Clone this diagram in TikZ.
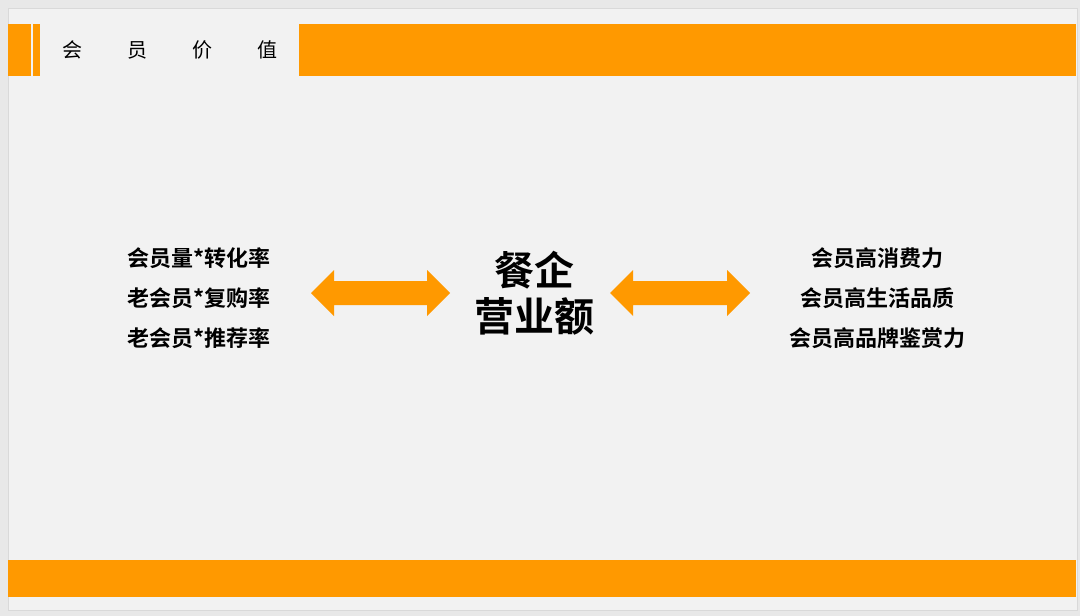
\documentclass[tikz,border=0pt]{standalone}
\usepackage{fontspec}
\newfontfamily\cjk{Noto Sans CJK SC}
\newfontfamily\cjkb{Noto Sans CJK SC Bold}
\definecolor{orng}{HTML}{FF9900}
\definecolor{slidebg}{HTML}{F2F2F2}
\definecolor{outerbg}{HTML}{E8E8E8}
\tikzset{
  band/.style={fill=orng, draw=none},
  dblarrow/.style={fill=orng, draw=none},
  sidetext/.style={font=\cjkb\fontsize{22}{40}\selectfont, align=center, text=black, inner sep=0pt},
  centertext/.style={font=\cjkb\fontsize{40}{46}\selectfont, align=center, text=black, inner sep=0pt},
  titletext/.style={font=\cjk\fontsize{20}{24}\selectfont, text=black, inner sep=0pt, anchor=west}
}
\begin{document}
\begin{tikzpicture}[x=1pt,y=-1pt]
\useasboundingbox (0,0) rectangle (1080,616);
\fill[outerbg] (0,0) rectangle (1080,616);
\fill[slidebg] (8,8) rectangle (1077,610);
\draw[black!15, line width=0.6pt] (8,8) rectangle (1077,610);
% top bands
\fill[band] (8,24) rectangle (31,76);
\fill[band] (33,24) rectangle (40,76);
\fill[band] (299,24) rectangle (1076,76);
% bottom band
\fill[band] (8,560) rectangle (1076,597);
% title
\node[titletext] (title) at (62,50) {会\hspace{45pt}员\hspace{45pt}价\hspace{45pt}值};
% left text
\node[sidetext] (left) at (199,298) {会员量*转化率\\老会员*复购率\\老会员*推荐率};
% center text
\node[centertext] (center) at (534,293) {餐企\\营业额};
% right text
\node[sidetext] (right) at (877,298) {会员高消费力\\会员高生活品质\\会员高品牌鉴赏力};
% arrows
\fill[dblarrow] (311,293) -- (334,270) -- (334,281) -- (427,281) -- (427,270) -- (450,293)
  -- (427,316) -- (427,305) -- (334,305) -- (334,316) -- cycle;
\fill[dblarrow] (610,293) -- (633,270) -- (633,281) -- (727,281) -- (727,270) -- (750,293)
  -- (727,316) -- (727,305) -- (633,305) -- (633,316) -- cycle;
\end{tikzpicture}
\end{document}
